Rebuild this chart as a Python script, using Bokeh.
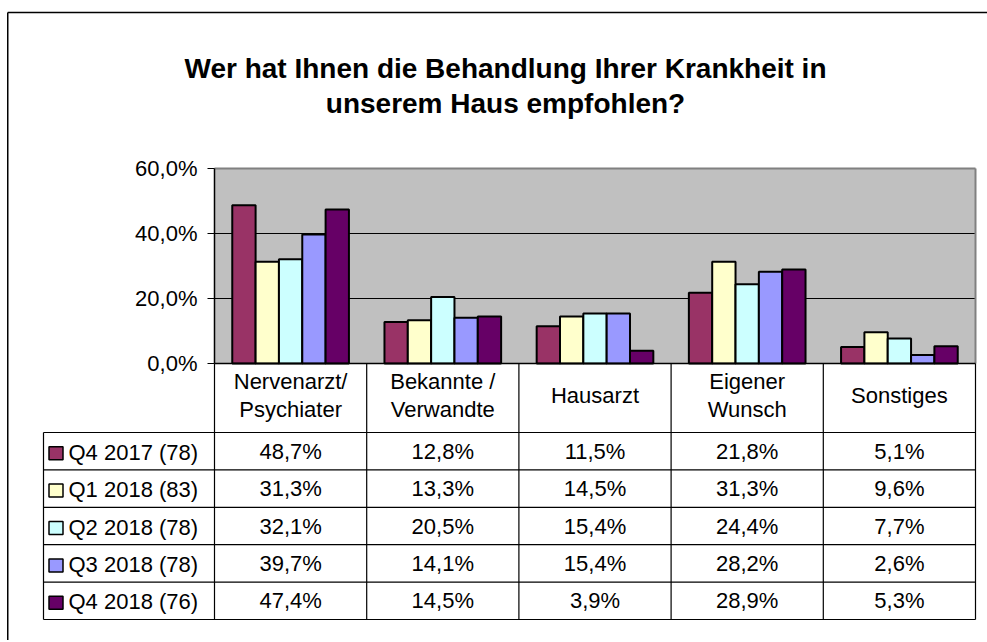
from bokeh.plotting import figure
from bokeh.models import Range1d, FixedTicker, CustomJSTickFormatter, ColumnDataSource, LinearAxis
from bokeh.core.properties import value
from bokeh.embed import file_html
from bokeh.resources import INLINE

# ---------------- data ----------------
title_lines = ["Wer hat Ihnen die Behandlung Ihrer Krankheit in", "unserem Haus empfohlen?"]
cat_keys = ["Nervenarzt", "Bekannte", "Hausarzt", "Eigener", "Sonstiges"]
cat_labels = ["Nervenarzt/\nPsychiater", "Bekannte /\nVerwandte", "Hausarzt", "Eigener\nWunsch", "Sonstiges"]
series_names = ["Q4 2017 (78)", "Q1 2018 (83)", "Q2 2018 (78)", "Q3 2018 (78)", "Q4 2018 (76)"]
q4_2017 = [48.7, 12.8, 11.5, 21.8, 5.1]
q1_2018 = [31.3, 13.3, 14.5, 31.3, 9.6]
q2_2018 = [32.1, 20.5, 15.4, 24.4, 7.7]
q3_2018 = [39.7, 14.1, 15.4, 28.2, 2.6]
q4_2018 = [47.4, 14.5, 3.9, 28.9, 5.3]
series_values = [q4_2017, q1_2018, q2_2018, q3_2018, q4_2018]
series_colors = ["#993366", "#FFFFCC", "#CCFFFF", "#9999FF", "#660066"]
y_ticks = [0, 20, 40, 60]

FONT = value("Liberation Sans")
W, H = 987, 640

# ---- layout helpers: canvas pixel -> data units (category / percent) ----
PX0, PY0 = 214.0, 363.0          # left edge / 0% line of plot area (px)
CW = 761.0 / len(cat_keys)       # px per category
SY = 195.0 / 60.0                # px per percent
def ux(px):
    return (px - PX0) / CW
def vy(py):
    return (PY0 - py) / SY

def fmt(v):
    return f"{v:.1f}".replace(".", ",") + "%"

p = figure(width=W, height=H, x_range=Range1d(ux(0), ux(W)), y_range=Range1d(vy(H), vy(0)),
           x_axis_type=None, y_axis_type=None, min_border=0,
           output_backend="svg", toolbar_location=None)
p.outline_line_color = None
p.grid.visible = False
p.background_fill_color = "white"
p.border_fill_color = "white"

n = len(cat_keys)
YMAX = y_ticks[-1]

# outer chart border (top, left)
p.segment(x0=[ux(W + 5)], y0=[vy(12)], x1=[ux(7.25)], y1=[vy(12)], line_color="black", line_width=1.5)
p.segment(x0=[ux(7.25)], y0=[vy(H + 5)], x1=[ux(7.25)], y1=[vy(12)], line_color="black", line_width=1.5)

# title
p.text(x=[ux(505), ux(505)], y=[vy(68), vy(103)], text=title_lines, text_font=FONT, text_font_size="28px",
       text_font_style="bold", text_align="center", text_baseline="alphabetic", text_color="black")

# plot area background and grid lines
p.quad(left=[0], right=[n], bottom=[0], top=[YMAX], fill_color="#C0C0C0", line_color=None)
p.segment(x0=[0, 0], y0=[20, 40], x1=[n, n], y1=[20, 40], line_color="black", line_width=1)

# bars
bw = 0.1533
offs = [-2 * bw, -bw, 0, bw, 2 * bw]
centers = [i + 0.5 for i in range(n)]
for vals, col, off in zip(series_values, series_colors, offs):
    src = ColumnDataSource(dict(x=[c + off for c in centers], top=vals))
    p.vbar(x="x", top="top", width=bw, bottom=0, source=src,
           fill_color=col, line_color="black", line_width=2)

# plot area border (top, right) and base line
p.segment(x0=[0], y0=[YMAX], x1=[n], y1=[YMAX], line_color="#808080", line_width=2)
p.segment(x0=[n], y0=[0], x1=[n], y1=[YMAX], line_color="#808080", line_width=2)
p.segment(x0=[0], y0=[0], x1=[n], y1=[0], line_color="black", line_width=1.5)

# y axis
ya = LinearAxis(fixed_location=0, ticker=FixedTicker(ticks=y_ticks),
                formatter=CustomJSTickFormatter(code="return tick.toFixed(1).replace('.', ',') + '%';"))
ya.bounds = (0, YMAX)
ya.minor_tick_line_color = None
ya.major_tick_in = 0
ya.major_tick_out = 7
ya.major_tick_line_color = "black"
ya.axis_line_color = "black"
ya.axis_line_width = 1.5
ya.major_label_standoff = 10
ya.major_label_text_font = "Liberation Sans"
ya.major_label_text_font_size = "22px"
ya.major_label_text_color = "black"
p.add_layout(ya, "left")

# ---------------- data table ----------------
T_TOP, RH = 432.0, 37.4
nrows = len(series_names)
T_BOT = T_TOP + RH * nrows
LEG_L = 43.0

# vertical grid lines
vx = [ux(LEG_L)] + [float(k) for k in range(n + 1)]
vtop = [vy(T_TOP)] + [0.0] * (n + 1)
p.segment(x0=vx, y0=vtop, x1=vx, y1=[vy(T_BOT)] * len(vx), line_color="black", line_width=1.2)
# horizontal grid lines
hy = [vy(T_TOP + RH * r) for r in range(nrows + 1)]
p.segment(x0=[ux(LEG_L)] * len(hy), y0=hy, x1=[n] * len(hy), y1=hy, line_color="black", line_width=1.2)

# category labels
p.text(x=centers, y=[vy(395)] * n, text=cat_labels, text_font=FONT, text_font_size="22px",
       text_align="center", text_baseline="middle", text_color="black", text_line_height=1.1)

row_c = [T_TOP + RH * (r + 0.5) for r in range(nrows)]
# legend keys and names
p.rect(x=[ux(55.5)] * nrows, y=[vy(c + 2) for c in row_c], width=14, height=13,
       width_units="screen", height_units="screen",
       fill_color=series_colors, line_color="black", line_width=1.5)
p.text(x=[ux(68)] * nrows, y=[vy(c + 1) for c in row_c], text=series_names, text_font=FONT,
       text_font_size="22px", text_align="left", text_baseline="middle", text_color="black")

# values
xs, ys, ts = [], [], []
for r, vals in enumerate(series_values):
    for k, v in enumerate(vals):
        xs.append(centers[k])
        ys.append(vy(row_c[r]))
        ts.append(fmt(v))
p.text(x=xs, y=ys, text=ts, text_font=FONT, text_font_size="22px", text_align="center",
       text_baseline="middle", text_color="black")

open("out.html", "w").write(file_html(p, INLINE))
